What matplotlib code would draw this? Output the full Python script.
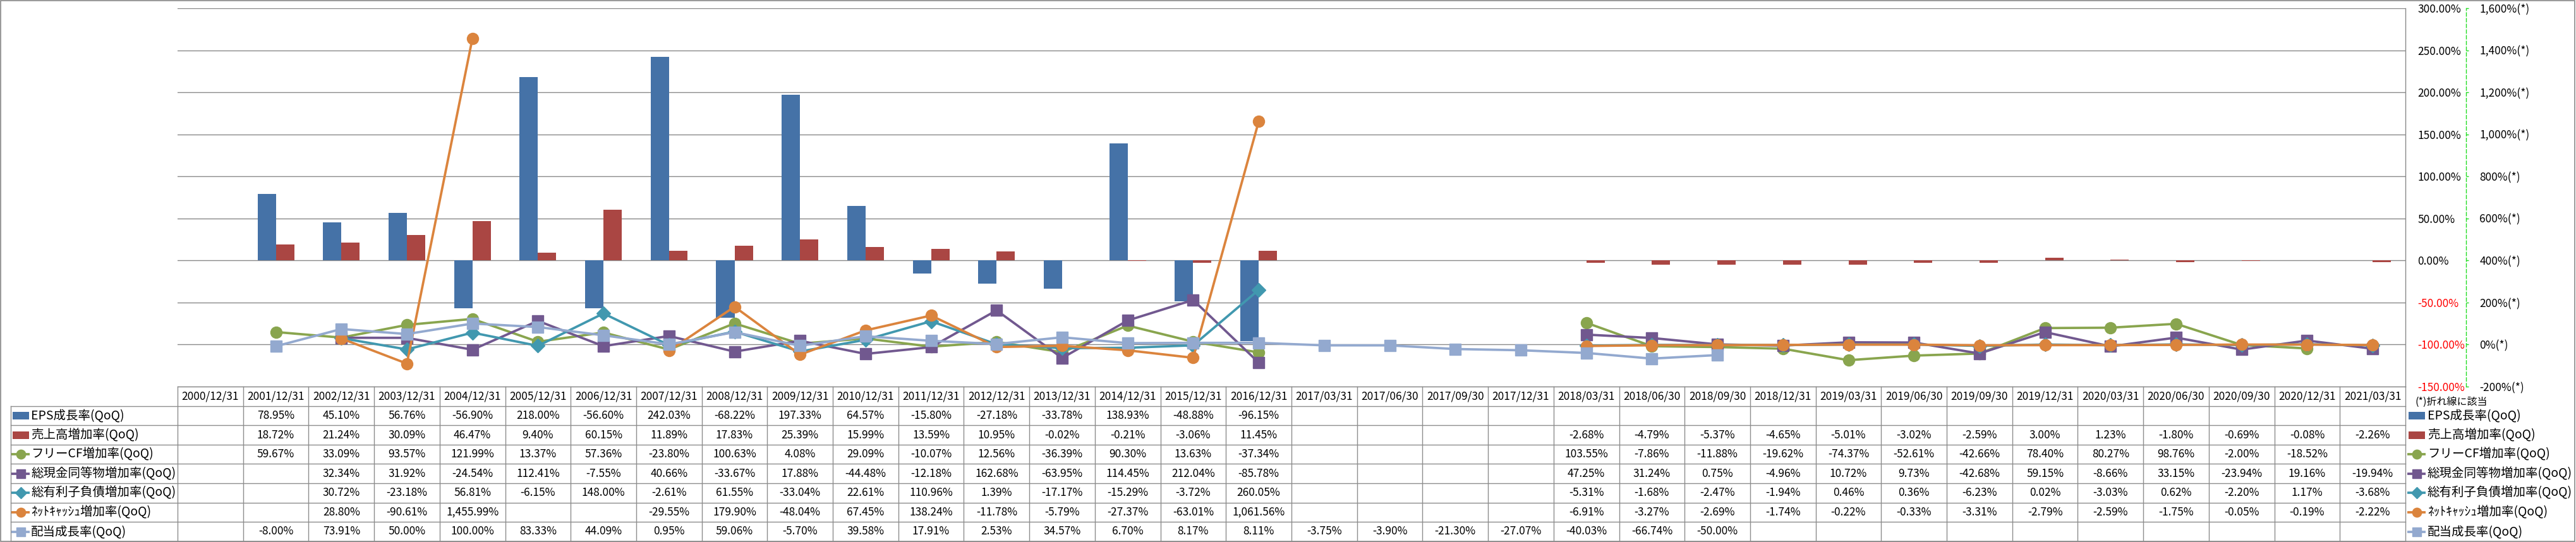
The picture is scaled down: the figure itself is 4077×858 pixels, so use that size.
import numpy as np
import matplotlib
matplotlib.use("Agg")
import matplotlib.pyplot as plt
from matplotlib.patches import Rectangle
from matplotlib.lines import Line2D

plt.rcParams['font.family'] = ['Noto Sans CJK JP', 'DejaVu Sans']

nan = np.nan

#  Data 
DATES = ["2000/12/31", "2001/12/31", "2002/12/31", "2003/12/31", "2004/12/31",
         "2005/12/31", "2006/12/31", "2007/12/31", "2008/12/31", "2009/12/31",
         "2010/12/31", "2011/12/31", "2012/12/31", "2013/12/31", "2014/12/31",
         "2015/12/31", "2016/12/31", "2017/03/31", "2017/06/30", "2017/09/30",
         "2017/12/31", "2018/03/31", "2018/06/30", "2018/09/30", "2018/12/31",
         "2019/03/31", "2019/06/30", "2019/09/30", "2019/12/31", "2020/03/31",
         "2020/06/30", "2020/09/30", "2020/12/31", "2021/03/31"]

EPS = [nan, 78.95, 45.10, 56.76, -56.90, 218.00, -56.60, 242.03, -68.22, 197.33,
       64.57, -15.80, -27.18, -33.78, 138.93, -48.88, -96.15,
       nan, nan, nan, nan, nan, nan, nan, nan, nan, nan, nan, nan, nan, nan, nan, nan, nan]

SALES = [nan, 18.72, 21.24, 30.09, 46.47, 9.40, 60.15, 11.89, 17.83, 25.39,
         15.99, 13.59, 10.95, -0.02, -0.21, -3.06, 11.45,
         nan, nan, nan, nan, -2.68, -4.79, -5.37, -4.65, -5.01, -3.02, -2.59,
         3.00, 1.23, -1.80, -0.69, -0.08, -2.26]

FCF = [nan, 59.67, 33.09, 93.57, 121.99, 13.37, 57.36, -23.80, 100.63, 4.08,
       29.09, -10.07, 12.56, -36.39, 90.30, 13.63, -37.34,
       nan, nan, nan, nan, 103.55, -7.86, -11.88, -19.62, -74.37, -52.61, -42.66,
       78.40, 80.27, 98.76, -2.00, -18.52, nan]

CASH = [nan, nan, 32.34, 31.92, -24.54, 112.41, -7.55, 40.66, -33.67, 17.88,
        -44.48, -12.18, 162.68, -63.95, 114.45, 212.04, -85.78,
        nan, nan, nan, nan, 47.25, 31.24, 0.75, -4.96, 10.72, 9.73, -42.68,
        59.15, -8.66, 33.15, -23.94, 19.16, -19.94]

DEBT = [nan, nan, 30.72, -23.18, 56.81, -6.15, 148.00, -2.61, 61.55, -33.04,
        22.61, 110.96, 1.39, -17.17, -15.29, -3.72, 260.05,
        nan, nan, nan, nan, -5.31, -1.68, -2.47, -1.94, 0.46, 0.36, -6.23,
        0.02, -3.03, 0.62, -2.20, 1.17, -3.68]

NETCASH = [nan, nan, 28.80, -90.61, 1455.99, nan, nan, -29.55, 179.90, -48.04,
           67.45, 138.24, -11.78, -5.79, -27.37, -63.01, 1061.56,
           nan, nan, nan, nan, -6.91, -3.27, -2.69, -1.74, -0.22, -0.33, -3.31,
           -2.79, -2.59, -1.75, -0.05, -0.19, -2.22]

DIVIDEND = [nan, -8.00, 73.91, 50.00, 100.00, 83.33, 44.09, 0.95, 59.06, -5.70,
            39.58, 17.91, 2.53, 34.57, 6.70, 8.17, 8.11, -3.75, -3.90, -21.30,
            -27.07, -40.03, -66.74, -50.00,
            nan, nan, nan, nan, nan, nan, nan, nan, nan, nan]

BAR_NAMES = ["EPS成長率(QoQ)", "売上高増加率(QoQ)"]
LINE_NAMES = ["フリーCF増加率(QoQ)", "総現金同等物増加率(QoQ)", "総有利子負債増加率(QoQ)",
              "ﾈｯﾄｷｬｯｼｭ増加率(QoQ)", "配当成長率(QoQ)"]

PRIMARY_TICKS = [-150, -100, -50, 0, 50, 100, 150, 200, 250, 300]
SECONDARY_TICKS = [-200, 0, 200, 400, 600, 800, 1000, 1200, 1400, 1600]
NOTE = "(*)折れ線に該当"

#  Styles 
BAR_COLORS = ["#4572A7", "#AA4643"]
LINE_COLORS = ["#89A54E", "#71588F", "#4198AF", "#DB843D", "#93A9CF"]
LINE_MARKERS = ["o", "s", "D", "o", "s"]
LINE_MSIZE = [13, 13, 11, 13, 13]
GRID = "#888888"
TABLE_LINE = "#8c8c8c"

#  Layout (pixels) 
W, H, DPI = 4077, 858, 100
PLOT_L, PLOT_R = 281, 3807
PLOT_T, PLOT_B = 13, 612
ROW_H = 30.6
ROW_LEFT = 17
PX = 72.0 / DPI   # points per pixel

fig = plt.figure(figsize=(W / DPI, H / DPI), dpi=DPI)
fig.patch.set_facecolor("white")

ax = fig.add_axes([PLOT_L / W, 1 - PLOT_B / H, (PLOT_R - PLOT_L) / W, (PLOT_B - PLOT_T) / H])
ax.patch.set_alpha(0)
n = len(DATES)
x = np.arange(n)
bw = 0.28

ax.bar(x - bw / 2, EPS, bw, color=BAR_COLORS[0], zorder=2)
ax.bar(x + bw / 2, SALES, bw, color=BAR_COLORS[1], zorder=2)
ax.set_xlim(-0.5, n - 0.5)
ax.set_ylim(-150, 300)
ax.set_xticks([])
ax.yaxis.grid(True, color=GRID, lw=1.0)
ax.set_axisbelow(True)

# secondary axis for the line series
ax2 = ax.twinx()
for vals, col, mk, ms in zip([FCF, CASH, DEBT, NETCASH, DIVIDEND], LINE_COLORS, LINE_MARKERS, LINE_MSIZE):
    ax2.plot(x, vals, color=col, lw=2.7, marker=mk, ms=ms, mfc=col, mec=col, zorder=3)
ax2.set_ylim(-200, 1600)
ax2.set_yticks(SECONDARY_TICKS, [f"{t:,}%(*)" for t in SECONDARY_TICKS])
for lbl, t in zip(ax2.get_yticklabels(), SECONDARY_TICKS):
    lbl.set_color("red" if t < 0 else "black")
for s in ["left", "top", "bottom"]:
    ax2.spines[s].set_visible(False)
ax2.spines["right"].set_position(("outward", 96 * PX))
ax2.spines["right"].set_color("#22dd22")
ax2.spines["right"].set_linestyle((0, (4, 2.5)))
ax2.spines["right"].set_linewidth(1.0)
ax2.tick_params(axis="y", length=3 * PX * 1.4, width=1.0, color="#22dd22",
                pad=17 * PX, labelsize=12.5)

# primary axis labels on the right (twinx moved them left)
ax.yaxis.tick_right()
ax.set_yticks(PRIMARY_TICKS, [f"{t:.2f}%" for t in PRIMARY_TICKS])
for lbl, t in zip(ax.get_yticklabels(), PRIMARY_TICKS):
    lbl.set_color("red" if t < 0 else "black")
ax.tick_params(axis="y", which="both", left=False, labelleft=False, right=False,
               labelright=True, length=0, pad=19 * PX, labelsize=12.5)
for s in ["left", "top", "bottom"]:
    ax.spines[s].set_visible(False)
ax.spines["right"].set_color(GRID)
ax.spines["right"].set_linewidth(1.0)

#  Overlay for table, legend and frame (pixel coords) 
ov = fig.add_axes([0, 0, 1, 1], zorder=-1)
ov.set_xlim(0, W)
ov.set_ylim(H, 0)
ov.axis("off")

colw = (PLOT_R - PLOT_L) / n
table_bottom = PLOT_B + 8 * ROW_H

# horizontal lines
ov.plot([PLOT_L, PLOT_R], [PLOT_B, PLOT_B], color=TABLE_LINE, lw=1.0)
for r in range(1, 9):
    y = PLOT_B + r * ROW_H
    ov.plot([ROW_LEFT, PLOT_R], [y, y], color=TABLE_LINE, lw=1.0)
# vertical lines
ov.plot([ROW_LEFT, ROW_LEFT], [PLOT_B + ROW_H, table_bottom], color=TABLE_LINE, lw=1.0)
for i in range(n + 1):
    xc = PLOT_L + i * colw
    ov.plot([xc, xc], [PLOT_B, table_bottom], color=TABLE_LINE, lw=1.0)

# header dates
for i, d in enumerate(DATES):
    ov.text(PLOT_L + (i + 0.5) * colw, PLOT_B + 0.5 * ROW_H, d,
            ha="center", va="center", fontsize=12.5)

all_series = [EPS, SALES, FCF, CASH, DEBT, NETCASH, DIVIDEND]
all_names = BAR_NAMES + LINE_NAMES
for r, vals in enumerate(all_series):
    yc = PLOT_B + (r + 1.5) * ROW_H
    for i, v in enumerate(vals):
        if not np.isnan(v):
            ov.text(PLOT_L + (i + 0.5) * colw, yc, f"{v:,.2f}%",
                    ha="center", va="center", fontsize=12.5)


def draw_key(ax_, xc, yc, idx):
    if idx < 2:
        ax_.add_patch(Rectangle((xc - 13, yc - 6), 26, 12, color=BAR_COLORS[idx], lw=0))
    else:
        j = idx - 2
        ax_.add_line(Line2D([xc - 15, xc + 14], [yc, yc], color=LINE_COLORS[j], lw=2.7,
                            solid_capstyle="butt"))
        ax_.add_line(Line2D([xc], [yc], color=LINE_COLORS[j], marker=LINE_MARKERS[j],
                            ms=LINE_MSIZE[j] * 0.8, mec=LINE_COLORS[j]))


# row headers in table and legend on the right
for r, name in enumerate(all_names):
    yc = PLOT_B + (r + 1.5) * ROW_H
    draw_key(ov, 33, yc, r)
    ov.text(49, yc, name, ha="left", va="center", fontsize=14)
    draw_key(ov, 3825, yc, r)
    ov.text(3842, yc, name, ha="left", va="center", fontsize=14)

ov.text(3822, 636, NOTE, ha="left", va="center", fontsize=11.5)

# outer frame
ov.add_patch(Rectangle((1, 1), W - 3, H - 2.5, fill=False, edgecolor="#888888", lw=1.2))

fig.savefig("out.png", dpi=DPI)
